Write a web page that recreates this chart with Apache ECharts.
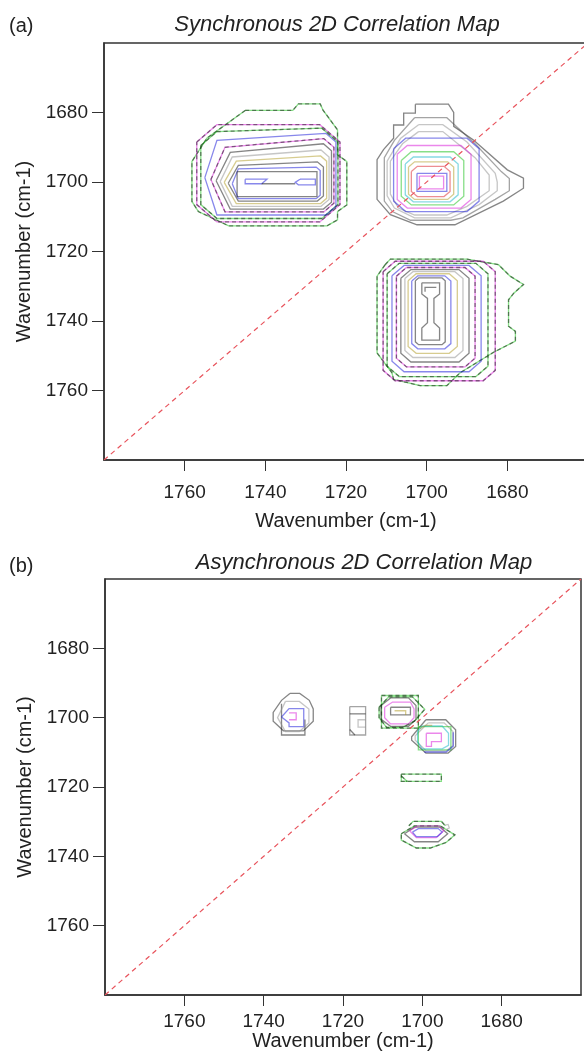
<!DOCTYPE html>
<html>
<head>
<meta charset="utf-8">
<script src="https://cdn.jsdelivr.net/npm/echarts@6/dist/echarts.min.js"></script>
<style>
  html, body { margin: 0; padding: 0; background: #fff; }
  #chart { width: 584px; height: 1053px; }
</style>
</head>
<body>
<div id="chart"></div>
<script>
// axis values (wavenumber, cm-1)
const axisMin = 1660;
const axisMax = 1780;
const tickValues = [1680, 1700, 1720, 1740, 1760];
const diagonal = [[1780, 1780], [1660, 1660]];

// contour level colours
const palette = {
  k: '#0c0c0c', d: '#4a4a4a', g: '#8e8e8e', b: '#1010d8', m: '#d810d8',
  gr: '#10c010', c: '#10b4c8', o: '#b09a20', r: '#dc1e26'
};

// ring contours: [colour, dashed, left, right, top, bottom, corner, tilt, tip]
// explicit contours: [colour, dashed, [[x, y], ...]]

// (a) synchronous: cross peak at 1737 / 1700
const syncLeftPaths = [
  ['gr', true, [[1745,1679.4],[1733.2,1679.4],[1731.8,1677.5],[1726.4,1677.5],[1725.7,1679.3],[1722.1,1685],[1722.1,1692.2],[1719.8,1694.1],[1719.8,1706.6],[1722.1,1708.5],[1722.1,1710.9],[1724.7,1712.6],[1749.1,1712.6],[1756.6,1708.5],[1758.2,1705.6],[1758.2,1694.1],[1754.5,1687.4],[1745,1679.4]]],
  ['b', false, [[1745,1699.2],[1739.6,1699.2],[1740.9,1700.5],[1745,1700.5],[1745,1699.2]]],
  ['k', false, [[1740.9,1700.5],[1732.6,1700.5]]],
  ['b', false, [[1731.4,1699.2],[1727.6,1699.2],[1727.6,1700.8],[1731.8,1700.8],[1732.6,1700.1],[1731.4,1699.2]]]
];
const syncLeftRings = [
  ['m', true, 1757, 1721.5, 1683.5, 1711.5, 5, 0, 0],
  ['gr', true, 1756, 1722, 1685.5, 1710.5, 4, 1, 0],
  ['b', false, 1755, 1722.5, 1688, 1709.5, 2.5, 2, 3],
  ['m', true, 1753.5, 1723, 1690, 1708.6, 2.5, 2.5, 3.5],
  ['k', false, 1752.2, 1723.6, 1691.5, 1707.8, 2, 2.5, 3.5],
  ['g', false, 1751.2, 1724.2, 1692.8, 1707, 2, 2, 3],
  ['o', false, 1750.2, 1724.8, 1694, 1706.2, 1.5, 1.5, 3],
  ['k', false, 1749.2, 1725.6, 1695.2, 1705.5, 1.5, 1, 2.5],
  ['b', false, 1748.2, 1726.4, 1696.2, 1704.8, 1, 0.5, 1.5],
  ['k', false, 1747, 1727.2, 1697, 1704.2, 0, 0, 0]
];

// (a) synchronous: auto peak at 1699 / 1700
const syncDiagPaths = [
  ['k', false, [[1702.8,1677.6],[1694.6,1677.6],[1693.3,1680],[1693.3,1684],[1688.4,1687.9],[1680,1696.5],[1676,1698.9],[1676,1701.8],[1681,1705.5],[1693,1712.3],[1702.4,1712.3],[1709,1709.4],[1712.3,1705],[1712.3,1693.6],[1710.7,1690.7],[1708.2,1687.4],[1708.2,1683.6],[1705.7,1683.6],[1705.7,1680.2],[1702.8,1680.2],[1702.8,1677.6]]],
  ['d', false, [[1703,1681.5],[1695,1681.5],[1688,1689],[1681.5,1697],[1679.5,1699],[1679.5,1702.5],[1683,1705],[1691,1710.3],[1694,1711],[1704,1711],[1708.5,1708.5],[1710.5,1705.5],[1710.5,1693],[1708,1688],[1703,1681.5]]],
  ['g', false, [[1702,1683.5],[1696,1683.5],[1690,1688.5],[1683,1697.5],[1682.5,1700],[1682.5,1702.5],[1687,1706.5],[1694,1710.3],[1703,1710.3],[1708,1707.5],[1709.8,1704],[1709.8,1694],[1706.5,1687.5],[1702,1683.5]]],
  ['g', false, [[1702,1685.5],[1696,1685.5],[1688,1693],[1684.5,1698],[1684.5,1702.5],[1690,1707],[1695,1709.5],[1703,1709.5],[1707,1707.5],[1709,1703.5],[1709,1694],[1706,1689],[1702,1685.5]]]
];
const syncDiagRings = [
  ['b', false, 1708.2, 1687, 1687.4, 1708.5, 3, 0, 0],
  ['m', false, 1707.3, 1689, 1689.5, 1707.5, 2.5, 0, 0],
  ['gr', false, 1706.3, 1690.8, 1691.3, 1706.6, 2.5, 0, 0],
  ['c', false, 1705.3, 1692.2, 1692.8, 1705.7, 2, 0, 0],
  ['o', false, 1704.5, 1693.3, 1694.2, 1705, 1.5, 0, 0],
  ['r', false, 1703.8, 1694.2, 1695.5, 1704.2, 1.5, 0, 0],
  ['b', false, 1702.4, 1695, 1697.5, 1702.7, 0, 0, 0],
  ['m', false, 1701.8, 1695.8, 1698.3, 1702, 0, 0, 0]
];

// (a) synchronous: cross peak at 1699 / 1737
const syncLowPaths = [
  ['gr', true, [[1710.3,1723.8],[1709,1722.2],[1690,1722.2],[1682.2,1723.8],[1679.3,1727.1],[1676,1729.5],[1678.4,1732],[1679.7,1733.9],[1679.7,1741.5],[1678,1743],[1678,1745.8],[1683.4,1749],[1691.7,1754.9],[1695,1758.6],[1701.6,1758.6],[1708.2,1756.8],[1708.6,1754.9],[1712.3,1749.2],[1712.3,1727.1],[1710.3,1723.8]]],
  ['k', false, [[1701.2,1729],[1696.8,1729],[1696.8,1732.2],[1698.2,1733.5],[1698.2,1740.5],[1696.8,1742],[1696.8,1745.5],[1701.2,1745.5],[1701.2,1742],[1699.8,1740.5],[1699.8,1733.5],[1701.2,1732.2],[1701.2,1729]]],
  ['k', false, [[1700.4,1731.6],[1700.4,1730.3],[1697.6,1730.3]]]
];
const syncLowRings = [
  ['m', true, 1710.8, 1683, 1722.8, 1757.2, 3, 0, 0],
  ['gr', true, 1709.8, 1684.8, 1723.4, 1756, 3, 0, 0],
  ['b', false, 1708.6, 1686.5, 1724, 1754.6, 3, 0, 0],
  ['m', true, 1707.5, 1688, 1724.6, 1753.2, 2.5, 0, 0],
  ['k', false, 1706.4, 1689.5, 1725.2, 1751.8, 2.5, 0, 0],
  ['g', false, 1705.4, 1691, 1725.8, 1750.5, 2, 0, 0],
  ['o', false, 1704.6, 1692.4, 1726.4, 1749.3, 2, 0, 0],
  ['b', false, 1703.7, 1694, 1727, 1748, 1.5, 0, 0],
  ['k', false, 1702.8, 1695.4, 1727.6, 1746.8, 0.8, 0, 0]
];

// (b) asynchronous peaks
const asyncPaths = [
  // 1732 / 1699
  ['k', false, [[1733.4,1693],[1730.9,1693],[1728.5,1695],[1727.5,1697.5],[1727.5,1701],[1730,1703.8],[1735,1703.8],[1737.6,1701],[1737.6,1698.5],[1735.5,1695],[1733.4,1693]]],
  ['k', false, [[1735.5,1696],[1735.5,1705],[1729.6,1705],[1729.6,1700.5]]],
  ['g', false, [[1734.5,1695.3],[1731,1695.3],[1728.6,1697.5],[1728.6,1701.5],[1731,1704],[1734.5,1704],[1736.5,1700],[1734.5,1695.3]]],
  ['b', false, [[1735.5,1699.8],[1733.6,1697.4],[1729.9,1697.4],[1729.9,1702.6],[1733.6,1702.6],[1733.6,1701.5],[1735.5,1699.8]]],
  ['m', false, [[1733.6,1698.6],[1731.8,1698.6],[1731.8,1700.6],[1733.6,1700.6]]],
  // 1716 / 1701
  ['d', false, [[1718.3,1696.8],[1714.3,1696.8],[1714.3,1705],[1718.3,1705],[1718.3,1696.8]]],
  ['k', false, [[1718.3,1698.9],[1714.3,1698.9]]],
  ['g', false, [[1714.3,1700.6],[1716.2,1700.6],[1716.2,1702.7],[1714.3,1702.7]]],
  ['k', false, [[1718.3,1703.4],[1717,1705]]],
  // 1706 / 1698
  ['gr', true, [[1710.3,1693.6],[1701,1693.6],[1701,1703],[1710.3,1703],[1710.3,1693.6]]],
  ['gr', true, [[1710.9,1697],[1708.5,1694],[1702.5,1694],[1699.4,1697.6],[1702,1701],[1705,1702.8],[1709,1702.8],[1710.9,1700],[1710.9,1697]]],
  ['k', false, [[1710.4,1696.5],[1708,1694.3],[1703.5,1694.3],[1701.6,1696.5],[1701.6,1700.5],[1703.5,1702.5],[1708,1702.5],[1710.4,1700.5],[1710.4,1696.5]]],
  ['m', false, [[1709.5,1697],[1707.5,1695.5],[1703,1695.5],[1702.1,1697.5],[1702.1,1700],[1703.5,1701.8],[1708,1701.8],[1709.5,1700],[1709.5,1697]]],
  ['k', false, [[1708,1697],[1703,1697],[1703,1699.2],[1708,1699.2],[1708,1697]]],
  ['o', false, [[1707,1698],[1704.2,1698],[1704.2,1699.2]]],
  // 1697 / 1705
  ['k', false, [[1699.1,1700.6],[1694.1,1700.6],[1691.6,1703.5],[1691.6,1708.3],[1693.5,1710.2],[1699.1,1710.2],[1702.7,1706.5],[1702.7,1705.5],[1699.1,1700.6]]],
  ['g', false, [[1698.5,1701.5],[1694.5,1701.5],[1692.3,1704],[1692.3,1708],[1694,1709.6],[1699,1709.6],[1701.8,1706.5],[1701.8,1705.2],[1698.5,1701.5]]],
  ['gr', false, [[1701,1702.6],[1692.8,1702.6],[1692.8,1709.3],[1701,1709.3],[1701,1702.6]]],
  ['c', false, [[1700,1702.4],[1695,1702.4],[1693.4,1704.5],[1693.4,1708],[1695,1709],[1700,1709],[1701.2,1707],[1701.2,1704],[1700,1702.4]]],
  ['b', false, [[1699.5,1709.9],[1694,1709.9],[1692.2,1708.2],[1692.2,1704.2]]],
  ['o', false, [[1700.6,1703.2],[1699.2,1702.2],[1697.5,1702.2]]],
  ['m', false, [[1699,1704.5],[1695.2,1704.5],[1695.2,1706.9],[1697.7,1706.9],[1697.7,1708.3],[1699,1708.3],[1699,1704.5]]],
  // 1700 / 1717
  ['gr', true, [[1705.3,1716.3],[1695.2,1716.3],[1695.2,1718.4],[1705.3,1718.4],[1705.3,1716.3]]],
  ['gr', true, [[1705.3,1716.8],[1703.8,1718.4]]],
  // 1699 / 1733
  ['gr', true, [[1705.3,1733.5],[1702,1731.2],[1695.5,1731.2],[1691.8,1733.8],[1694,1736],[1698,1737.6],[1701.5,1737.6],[1705.3,1735.3],[1705.3,1733.5]]],
  ['gr', true, [[1703.4,1731.2],[1702.3,1729.9],[1695.2,1729.9],[1694.2,1731.2]]],
  ['k', false, [[1704.5,1733.5],[1702,1731.6],[1695.5,1731.6],[1693.6,1733.5],[1696,1735.8],[1702,1735.8],[1704.5,1733.5]]],
  ['m', false, [[1703.2,1732.6],[1701.2,1731.2],[1695.8,1731.2],[1694.6,1732.6],[1696.5,1734.6],[1701.5,1734.6],[1703.2,1732.6]]],
  ['b', false, [[1702.5,1733],[1701,1732],[1696,1732],[1695,1733],[1696.2,1734.3],[1701.5,1734.3],[1702.5,1733]]],
  ['g', false, [[1694.3,1731],[1693.5,1730.8],[1693.2,1731.8],[1694,1732.3]]]
];

// ring spec -> closed outline in data space (x axis runs high -> low)
function ringPoints(L, R, T, B, c, tilt, tip) {
  const tr = T - tilt;
  const mid = (T + B) / 2;
  const pts = tip ? [[L, mid], [L - tip, T]] : [[L, T + c], [L - c, T]];
  pts.push([R + c, tr], [R, tr + c], [R, B - c], [R + c, B]);
  if (tip) pts.push([L - tip, B], [L, mid]);
  else pts.push([L - c, B], [L, B - c], [L, T + c]);
  return pts;
}

function toItems(paths, rings) {
  const all = paths.concat(rings.map(r => [r[0], r[1], ringPoints(r[2], r[3], r[4], r[5], r[6], r[7], r[8])]));
  const items = [];
  all.forEach(([key, dashed, pts]) => {
    items.push({ coords: pts, lineStyle: { color: palette[key], width: 1.3, type: 'solid' } });
    if (dashed) items.push({ coords: pts, lineStyle: { color: '#111', width: 1.3, type: [4, 3] } });
  });
  return items;
}

const panelA = toItems(syncLeftPaths, syncLeftRings)
  .concat(toItems(syncDiagPaths, syncDiagRings))
  .concat(toItems(syncLowPaths, syncLowRings));
const panelB = toItems(asyncPaths, []);

const font = 'Liberation Sans, Arial, sans-serif';
const textColor = '#222';

function makeX(idx, labelMargin, nameGap) {
  return {
    type: 'value', gridIndex: idx, min: axisMin, max: axisMax, interval: 20, inverse: true,
    name: 'Wavenumber (cm-1)', nameLocation: 'middle', nameGap: nameGap,
    nameTextStyle: { fontFamily: font, fontSize: 20, color: textColor },
    axisLine: { show: true, lineStyle: { color: '#333', width: 1.5 } },
    axisTick: { show: true, length: 11, customValues: tickValues, lineStyle: { color: '#333' } },
    axisLabel: { customValues: tickValues, margin: labelMargin, formatter: v => String(v),
      fontFamily: font, fontSize: 19, color: textColor },
    splitLine: { show: false }
  };
}
function makeY(idx) {
  return {
    type: 'value', gridIndex: idx, min: axisMin, max: axisMax, interval: 20, inverse: true,
    name: 'Wavenumber (cm-1)', nameLocation: 'middle', nameGap: 64, nameRotate: 90,
    nameTextStyle: { fontFamily: font, fontSize: 20, color: textColor },
    axisLine: { show: true, lineStyle: { color: '#333', width: 1.5 } },
    axisTick: { show: true, length: 12, customValues: tickValues, lineStyle: { color: '#333' } },
    axisLabel: { customValues: tickValues, margin: 16, formatter: v => String(v),
      fontFamily: font, fontSize: 19, color: textColor },
    splitLine: { show: false }
  };
}

const chart = echarts.init(document.getElementById('chart'));
chart.setOption({
  backgroundColor: '#fff',
  animation: false,
  title: [
    { text: '(a)', left: 4, top: 11, textStyle: { fontFamily: font, fontSize: 20, fontWeight: 'normal', color: textColor } },
    { text: 'Synchronous 2D Correlation Map', left: 332, top: 9, textAlign: 'center',
      textStyle: { fontFamily: font, fontSize: 22, fontStyle: 'italic', fontWeight: 'normal', color: textColor } },
    { text: '(b)', left: 4, top: 551, textStyle: { fontFamily: font, fontSize: 20, fontWeight: 'normal', color: textColor } },
    { text: 'Asynchronous 2D Correlation Map', left: 359, top: 547, textAlign: 'center',
      textStyle: { fontFamily: font, fontSize: 22, fontStyle: 'italic', fontWeight: 'normal', color: textColor } }
  ],
  grid: [
    { left: 104, top: 43, width: 484, height: 417, outerBoundsMode: 'none',
      show: true, borderColor: '#333', borderWidth: 1.5, backgroundColor: '#fff' },
    { left: 105, top: 579, width: 476, height: 416, outerBoundsMode: 'none',
      show: true, borderColor: '#333', borderWidth: 1.5, backgroundColor: '#fff' }
  ],
  xAxis: [makeX(0, 23, 51), makeX(1, 17, 36)],
  yAxis: [makeY(0), makeY(1)],
  series: [
    { type: 'line', xAxisIndex: 0, yAxisIndex: 0, data: diagonal, symbol: 'none', silent: true,
      lineStyle: { color: '#e8535c', width: 1.2, type: [5, 4] } },
    { type: 'line', xAxisIndex: 1, yAxisIndex: 1, data: diagonal, symbol: 'none', silent: true,
      lineStyle: { color: '#e8535c', width: 1.2, type: [5, 4] } },
    { type: 'lines', coordinateSystem: 'cartesian2d', xAxisIndex: 0, yAxisIndex: 0, polyline: true,
      silent: true, data: panelA },
    { type: 'lines', coordinateSystem: 'cartesian2d', xAxisIndex: 1, yAxisIndex: 1, polyline: true,
      silent: true, data: panelB }
  ]
});
</script>
</body>
</html>
